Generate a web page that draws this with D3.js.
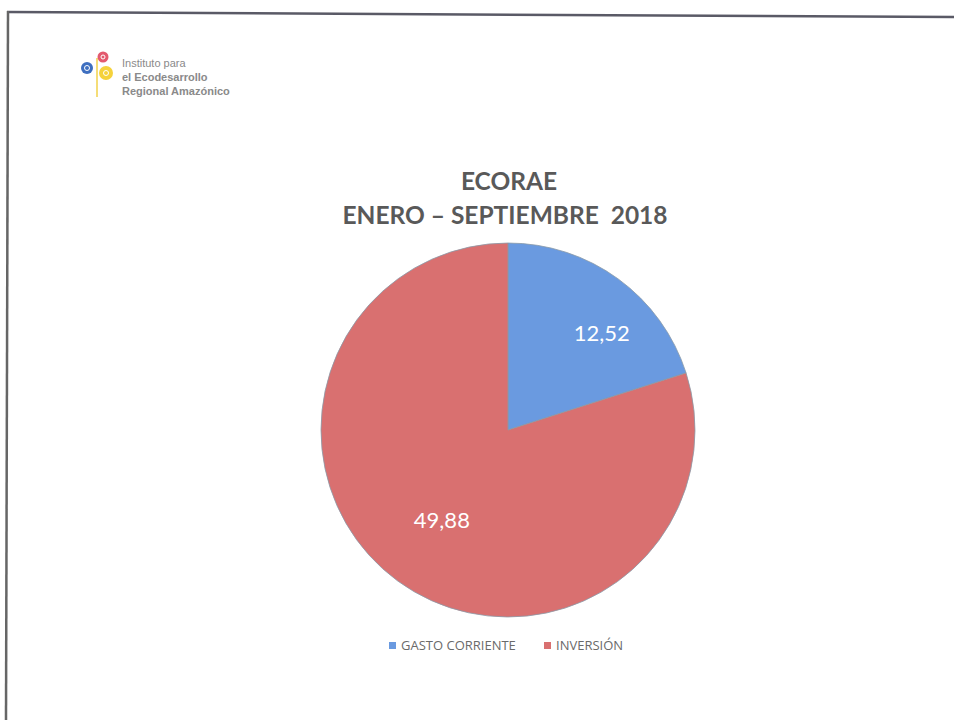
<!doctype html>
<html>
    <head>
        <meta charset="utf-8">
        <title>ECORAE Enero - Septiembre 2018</title>
        <script src="https://d3js.org/d3.v7.min.js"></script>
        <style>
            body { margin: 0; background: #fff; }
        </style>
    </head>

    <body>
        <script>
            // data
            var categories = ["GASTO CORRIENTE", "INVERSIÓN"];
            var values = [12.52, 49.88];
            var labels = ["12,52", "49,88"];
            var colors = ["#6a9ae0", "#d97070"];

            var width = 954;
            var height = 720;
            var r = 187;
            // label distance from centre as fraction of radius (Excel best fit look)
            var labelRadius = [0.72, 0.6];
            var labelShift = [0.14, 0];   // extra angle (radians)

            var canvas = d3.select("body")
                .append("svg")
                .attr("width", width)
                .attr("height", height);

            // scanned page frame
            canvas.append("line")
                .attr("x1", 7).attr("y1", 12)
                .attr("x2", width).attr("y2", 17)
                .attr("stroke", "#5a5a66")
                .attr("stroke-width", 2.5);
            canvas.append("line")
                .attr("x1", 8).attr("y1", 11)
                .attr("x2", 6).attr("y2", height)
                .attr("stroke", "#666")
                .attr("stroke-width", 2.5);

            // logo
            var logo = canvas.append("g");
            logo.append("line")
                .attr("x1", 97).attr("y1", 58).attr("x2", 97).attr("y2", 97)
                .attr("stroke", "#f2d24a").attr("stroke-width", 1.5);
            logo.append("circle").attr("cx", 87).attr("cy", 68).attr("r", 6).attr("fill", "#3e6fc0");
            logo.append("circle").attr("cx", 87).attr("cy", 68).attr("r", 2.5).attr("fill", "none")
                .attr("stroke", "#fff").attr("stroke-width", 1);
            logo.append("circle").attr("cx", 103).attr("cy", 57).attr("r", 5.5).attr("fill", "#e35a6e");
            logo.append("circle").attr("cx", 103).attr("cy", 57).attr("r", 2).attr("fill", "none")
                .attr("stroke", "#fff").attr("stroke-width", 1);
            logo.append("circle").attr("cx", 106).attr("cy", 73).attr("r", 7).attr("fill", "#f5d23c");
            logo.append("circle").attr("cx", 106).attr("cy", 73).attr("r", 2.5).attr("fill", "none")
                .attr("stroke", "#fff").attr("stroke-width", 1);
            var logoText = [
                {t: "Instituto para", w: "normal", y: 67},
                {t: "el Ecodesarrollo", w: "bold", y: 81},
                {t: "Regional Amazónico", w: "bold", y: 95}
            ];
            logo.selectAll(".lt")
                .data(logoText)
                .enter().append("text")
                .attr("class", "lt")
                .attr("x", 122)
                .attr("y", function(d) { return d.y; })
                .attr("font-family", "Liberation Sans, Arial, sans-serif")
                .attr("font-size", 11)
                .attr("font-weight", function(d) { return d.w; })
                .attr("fill", "#8a8a8a")
                .text(function(d) { return d.t; });

            // titles
            var titleG = canvas.append("g")
                .attr("font-family", "Lato, 'Open Sans', sans-serif")
                .attr("font-weight", "bold")
                .attr("font-size", 24.5)
                .attr("fill", "#595959")
                .attr("text-anchor", "middle");
            titleG.append("text").attr("x", 509).attr("y", 190).text("ECORAE");
            titleG.append("text").attr("x", 505).attr("y", 224).attr("xml:space", "preserve")
                .text("ENERO – SEPTIEMBRE  2018");

            // pie
            var group = canvas.append("g")
                .attr("transform", "translate(508, 430)");

            var pie = d3.pie().sort(null);
            var arc = d3.arc().innerRadius(0).outerRadius(r);

            var arcs = group.selectAll(".arc")
                .data(pie(values))
                .enter().append("g")
                .attr("class", "arc");

            arcs.append("path")
                .attr("d", arc)
                .attr("fill", function(d, i) { return colors[i]; })
                .attr("stroke", "#8a9aa8")
                .attr("stroke-width", 0.8);

            arcs.append("text")
                .attr("transform", function(d, i) {
                    var a = (d.startAngle + d.endAngle) / 2 + labelShift[i];
                    var lr = r * labelRadius[i];
                    return "translate(" + (Math.sin(a) * lr) + "," + (-Math.cos(a) * lr) + ")";
                })
                .attr("dy", "0.35em")
                .attr("text-anchor", "middle")
                .attr("font-family", "Lato, 'Open Sans', sans-serif")
                .attr("font-size", 22)
                .attr("fill", "#fff")
                .text(function(d, i) { return labels[i]; });

            // legend
            var legendX = d3.scalePoint().domain(categories).range([389, 544]);
            var legendG = canvas.selectAll(".legend")
                .data(categories)
                .enter().append("g")
                .attr("class", "legend")
                .attr("transform", function(d) { return "translate(" + legendX(d) + ",650)"; });

            legendG.append("rect")
                .attr("x", 0).attr("y", -8)
                .attr("width", 7).attr("height", 7)
                .attr("fill", function(d, i) { return colors[i]; });

            legendG.append("text")
                .attr("x", 12)
                .attr("y", 0)
                .attr("font-family", "'Open Sans', sans-serif")
                .attr("font-size", 13)
                .attr("fill", "#6a6a6a")
                .text(function(d) { return d; });
        </script>
    </body>
</html>
